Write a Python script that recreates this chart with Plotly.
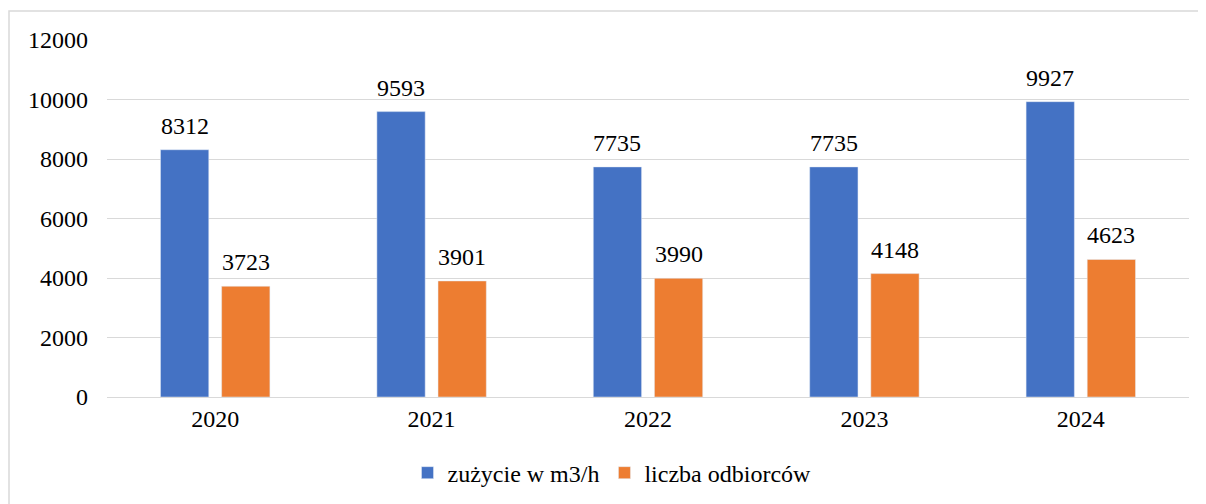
import plotly.graph_objects as go

years = ["2020", "2021", "2022", "2023", "2024"]
zuzycie = [8312, 9593, 7735, 7735, 9927]
odbiorcy = [3723, 3901, 3990, 4148, 4623]
yticks = [0, 2000, 4000, 6000, 8000, 10000, 12000]

FONT = "Liberation Serif"
FS = 24
W, H = 1206, 504
ML, MR, MT, MB = 99, 25, 32, 115
BARGAP, GROUPGAP = 0.435, 0.21

fig = go.Figure()
fig.add_trace(go.Bar(x=years, y=zuzycie, name="zużycie w m3/h", marker_color="#4472C4"))
fig.add_trace(go.Bar(x=years, y=odbiorcy, name="liczba odbiorców", marker_color="#ED7D31"))

plot_w = W - ML - MR
cat_w = plot_w / len(years)
slot = cat_w * (1 - BARGAP) / 2
annotations = []
for vals, sign in ((zuzycie, -1), (odbiorcy, 1)):
    for i, v in enumerate(vals):
        annotations.append(dict(x=i, y=v, xref="x", yref="y", text=str(v), showarrow=False,
                                xanchor="center", yanchor="bottom",
                                xshift=sign * slot / 2, yshift=9,
                                font=dict(family=FONT, size=FS, color="black")))

fig.update_layout(
    width=W, height=H,
    margin=dict(l=ML, r=MR, t=MT, b=MB),
    paper_bgcolor="white", plot_bgcolor="white",
    font=dict(family=FONT, size=FS, color="black"),
    barmode="group", bargap=BARGAP, bargroupgap=GROUPGAP,
    showlegend=True,
    legend=dict(orientation="h", x=0.5 - 36 / plot_w, xanchor="center", y=-0.15,
                yanchor="top", font=dict(family=FONT, size=FS, color="black"),
                traceorder="normal"),
    xaxis=dict(type="category", showgrid=False, showline=True, linecolor="#d9d9d9",
               linewidth=1, ticks="", tickfont=dict(family=FONT, size=FS)),
    yaxis=dict(range=[0, 12000], tickvals=yticks, tickformat="d", showgrid=True,
               gridcolor="#d9d9d9", gridwidth=1, zeroline=False, showline=False,
               ticks="", ticklabelstandoff=18, tickfont=dict(family=FONT, size=FS)),
    annotations=annotations,
    shapes=[dict(type="rect", xref="paper", yref="paper",
                 x0=(1 - ML) / plot_w, x1=1.05, y0=-0.4, y1=(H - MB - 3) / (H - MT - MB),
                 line=dict(color="#d9d9d9", width=1.5), layer="below")],
)
fig.write_html("out.html")
